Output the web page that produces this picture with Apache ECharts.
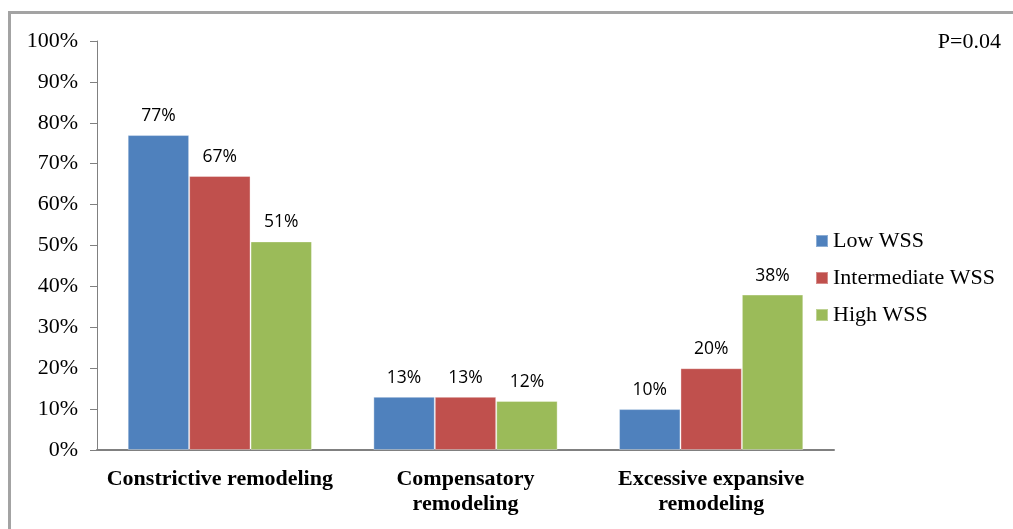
<!DOCTYPE html>
<html>
<head>
<meta charset="utf-8">
<script src="https://cdn.jsdelivr.net/npm/echarts@6/dist/echarts.min.js"></script>
<style>
  html, body { margin: 0; padding: 0; background: #fff; }
  #chart { width: 1013px; height: 529px; }
</style>
</head>
<body>
<div id="chart"></div>
<script>
// Remodeling pattern by wall shear stress (WSS) group, percent of segments
const categories = ['Constrictive remodeling', 'Compensatory\nremodeling', 'Excessive expansive\nremodeling'];
const seriesNames = ['Low WSS', 'Intermediate WSS', 'High WSS'];
const lowWSS = [77, 13, 10];
const intermediateWSS = [67, 13, 20];
const highWSS = [51, 12, 38];
const seriesColors = ['#4F81BD', '#C0504D', '#9BBB59'];
const pValueText = 'P=0.04';

const serif = '"Liberation Serif", "DejaVu Serif", serif';
const sans = '"Open Sans", "Noto Sans", sans-serif';

const values = [lowWSS, intermediateWSS, highWSS];

const chart = echarts.init(document.getElementById('chart'), null, { renderer: 'canvas' });

chart.setOption({
  animation: false,
  backgroundColor: '#ffffff',
  graphic: [
    {
      type: 'rect',
      shape: { x: 9.5, y: 12.5, width: 1100, height: 600 },
      style: { fill: 'none', stroke: '#a3a3a3', lineWidth: 3 },
      z: 0
    },
    {
      type: 'text',
      right: 12,
      top: 31,
      style: { text: pValueText, font: '22px ' + serif, fill: '#000' }
    }
  ],
  grid: { left: 97, right: 179, top: 41, bottom: 79, containLabel: false },
  legend: {
    orient: 'vertical',
    left: 810,
    top: 225,
    itemWidth: 12,
    itemHeight: 12,
    itemGap: 15,
    icon: 'rect',
    textStyle: { fontFamily: serif, fontSize: 22, color: '#000' },
    data: seriesNames
  },
  xAxis: {
    type: 'category',
    data: categories,
    axisLine: { lineStyle: { color: '#808080', width: 2 } },
    axisTick: { show: false },
    axisLabel: {
      interval: 0,
      margin: 17,
      fontFamily: serif,
      fontSize: 22,
      fontWeight: 'bold',
      color: '#000',
      lineHeight: 25
    }
  },
  yAxis: {
    type: 'value',
    min: 0,
    max: 100,
    interval: 10,
    splitLine: { show: false },
    axisLine: { show: true, lineStyle: { color: '#808080', width: 1 } },
    axisTick: { show: true, inside: false, length: 7, lineStyle: { color: '#808080' } },
    axisLabel: {
      formatter: '{value}%',
      margin: 19,
      fontFamily: serif,
      fontSize: 22,
      color: '#000'
    }
  },
  series: seriesNames.map((name, i) => ({
    name: name,
    type: 'bar',
    data: values[i],
    barGap: '0%',
    barCategoryGap: '25%',
    itemStyle: { color: seriesColors[i], borderColor: 'rgba(255,255,255,0.35)', borderWidth: 1 },
    label: {
      show: true,
      position: 'top',
      distance: 10,
      formatter: '{c}%',
      fontFamily: sans,
      fontSize: 17.5,
      color: '#000'
    }
  }))
});
</script>
</body>
</html>
